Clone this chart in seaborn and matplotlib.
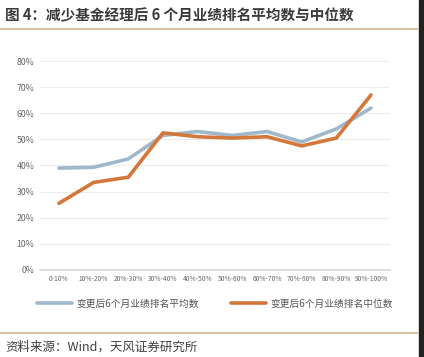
import matplotlib
matplotlib.use("Agg")
import matplotlib.pyplot as plt
import matplotlib.patches as mpatches
import seaborn as sns
import pandas as pd

# 排名区间
categories = ['0-10%', '10%-20%', '20%-30%', '30%-40%', '40%-50%', '50%-60%',
              '60%-70%', '70%-80%', '80%-90%', '90%-100%']
mean_rank = [39.0, 39.3, 42.5, 51.5, 53.0, 51.5, 53.0, 49.0, 54.0, 62.0]
median_rank = [25.5, 33.5, 35.5, 52.5, 51.0, 50.5, 51.0, 47.5, 50.5, 67.0]
series_names = ['变更后6个月业绩排名平均数', '变更后6个月业绩排名中位数']

df = pd.DataFrame({
    'cat': categories * 2,
    'val': mean_rank + median_rank,
    'series': [series_names[0]] * len(categories) + [series_names[1]] * len(categories),
})
df['x'] = list(range(len(categories))) * 2

sns.set_theme(style='white')
plt.rcParams['font.family'] = ['Noto Sans CJK SC', 'DejaVu Sans']

fig = plt.figure(figsize=(4.24, 3.57), dpi=100)
ax = fig.add_axes([0.094, 0.244, 0.826, 0.585])

palette = {series_names[0]: '#a0b8cc', series_names[1]: '#d4773a'}
sns.lineplot(data=df, x='x', y='val', hue='series', palette=palette, linewidth=2.6,
             ax=ax, legend=True, sort=False)

ax.set_ylim(0, 80)
ax.set_xlim(-0.55, len(categories) - 0.45)
ax.set_yticks(range(0, 81, 10))
ax.set_yticklabels([f'{v}%' for v in range(0, 81, 10)], fontsize=6.3, color='#666666')
ax.set_xticks(range(len(categories)))
ax.set_xticklabels(categories, fontsize=4.8, color='#666666')
ax.tick_params(axis='both', length=0, pad=4)
ax.grid(axis='y', color='#ececec', linewidth=0.8)
ax.set_axisbelow(True)
for s in ['top', 'right', 'left']:
    ax.spines[s].set_visible(False)
ax.spines['bottom'].set_color('#d9d9d9')
ax.set_xlabel('')
ax.set_ylabel('')

handles, labels = ax.get_legend_handles_labels()
ax.legend(handles, labels, loc='upper center', bbox_to_anchor=(0.5, -0.095), ncol=2,
          frameon=False, fontsize=7, handlelength=3.6, handletextpad=0.5,
          columnspacing=3.2, labelcolor='#555555')

# 标题与来源
fig.text(0.012, 0.957, '图 4：减少基金经理后 6 个月业绩排名平均数与中位数',
         fontsize=10.5, fontweight='bold', color='#3a3a3a', va='center')
fig.add_artist(plt.Line2D([0, 0.985], [0.918, 0.918], color='#d2b48c', linewidth=1.2))
fig.add_artist(plt.Line2D([0, 0.985], [0.068, 0.068], color='#d2b48c', linewidth=1.2))
fig.text(0.012, 0.027, '资料来源：Wind，天风证券研究所', fontsize=9, color='#404040', va='center')
fig.add_artist(mpatches.Rectangle((0.988, 0), 0.012, 1, transform=fig.transFigure,
                                  color='#222222'))

fig.savefig('out.png', dpi=100)
